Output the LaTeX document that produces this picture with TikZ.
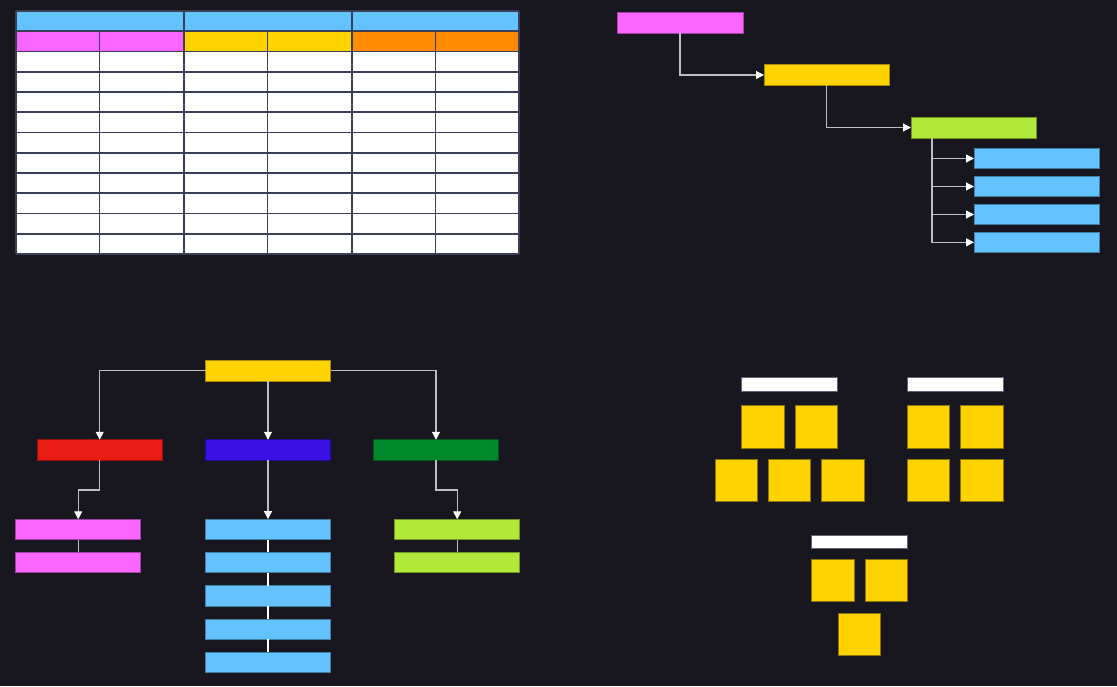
\documentclass[tikz,border=0pt]{standalone}
\usetikzlibrary{arrows.meta,calc,positioning}
\definecolor{Bg}{HTML}{18161F}
\definecolor{Grid}{HTML}{3A3F55}
\definecolor{Wire}{HTML}{BDBDC4}
\definecolor{Sky}{HTML}{64C3FF}
\definecolor{Pink}{HTML}{F966FF}
\definecolor{Yellow}{HTML}{FFD300}
\definecolor{Orange}{HTML}{FF8C00}
\definecolor{Lime}{HTML}{B1E93A}
\definecolor{Red}{HTML}{E81C14}
\definecolor{Violet}{HTML}{3B10E6}
\definecolor{Green}{HTML}{00892A}
\tikzset{
  bar/.style={draw=#1!65!black,fill=#1,line width=0.8pt,minimum width=125pt,
    minimum height=20.5pt,inner sep=0pt,outer sep=0pt},
  tile/.style={draw=Yellow!55!black,fill=Yellow,line width=0.8pt,minimum width=42.5pt,
    minimum height=42.5pt,inner sep=0pt,outer sep=0pt},
  lid/.style={draw=Grid!80!white,fill=white,line width=0.8pt,minimum width=96pt,
    minimum height=13.5pt,inner sep=0pt,outer sep=0pt},
  link/.style={draw=Wire,line width=1.1pt,-{Triangle[length=8pt,width=8pt,color=white]}},
  joint/.style={draw=Wire,line width=1.1pt},
  grid/.style={draw=Grid,line width=1.6pt}
}
\begin{document}
\begin{tikzpicture}[x=1pt,y=-1pt]
  \fill[Bg] (0,0) rectangle (1117,686);
  \useasboundingbox (0,0) rectangle (1117,686);

  % table
  \fill[white] (16,51.5) rectangle (519,254);
  \foreach \xa/\xb in {16/184,184/352,352/519}
    \fill[Sky] (\xa,11) rectangle (\xb,31.25);
  \foreach \xa/\xb/\col in {16/99.5/Pink,99.5/184/Pink,184/267.5/Yellow,
      267.5/352/Yellow,352/435.5/Orange,435.5/519/Orange}
    \fill[\col] (\xa,31.25) rectangle (\xb,51.5);
  \foreach \k in {0,...,12}
    \draw[grid] (16,{11+20.25*\k}) -- (519,{11+20.25*\k});
  \foreach \x in {16,184,352,519}
    \draw[grid] (\x,11) -- (\x,254);
  \foreach \x in {99.5,267.5,435.5}
    \draw[grid] (\x,31.25) -- (\x,254);

  % staircase tree
  \node[bar=Pink,minimum width=126pt,minimum height=21pt] (top) at (680,22.5) {};
  \node[bar=Yellow] (mid) at (826.5,75) {};
  \node[bar=Lime,minimum height=21pt] (low) at (973.5,127.5) {};
  \foreach \i/\y in {1/158.5,2/186.5,3/214.5,4/242.3}
    \node[bar=Sky] (leaf\i) at (1036.5,\y) {};
  \draw[link] (top.south) |- (mid.west);
  \draw[link] (mid.south) |- (low.west);
  \coordinate (trunk) at ($(low.south west)+(21,0)$);
  \foreach \i in {1,...,4}
    \draw[link] (trunk) |- (leaf\i.west);

  % branching tree
  \node[bar=Yellow,minimum height=21pt] (root) at (268,370.5) {};
  \node[bar=Red] (kidA) at (99.7,450) {};
  \node[bar=Violet] (kidB) at (268,450) {};
  \node[bar=Green] (kidC) at (436,450) {};
  \draw[link] (root.west) -| (kidA.north);
  \draw[link] (root.south) -- (kidB.north);
  \draw[link] (root.east) -| (kidC.north);

  \node[bar=Pink] (pinkA) at (78.2,529.5) {};
  \node[bar=Pink] (pinkB) at (78.2,562.3) {};
  \draw[link] (kidA.south) -- ++(0,29.7) -| (pinkA.north);
  \draw[joint] (pinkA.south) -- (pinkB.north);

  \node[bar=Lime] (limeA) at (457.2,529.5) {};
  \node[bar=Lime] (limeB) at (457.2,562.5) {};
  \draw[link] (kidC.south) -- ++(0,29.7) -| (limeA.north);
  \draw[joint] (limeA.south) -- (limeB.north);

  \foreach \i/\y in {1/529.3,2/562.5,3/595.8,4/629.2,5/662.5}
    \node[bar=Sky] (stack\i) at (268,\y) {};
  \draw[link] (kidB.south) -- (stack1.north);
  \foreach \i/\j in {1/2,2/3,3/4,4/5}
    \draw[joint,draw=white] (stack\i.south) -- (stack\j.north);

  % tile groups
  \node[lid] (lidA) at (789.3,384.5) {};
  \node[tile] (tA1) at (762.7,426.8) {};
  \node[tile] (tA2) at (816.2,426.8) {};
  \node[tile] (tA3) at (736.2,480.3) {};
  \node[tile] (tA4) at (789.5,480.3) {};
  \node[tile] (tA5) at (842.8,480.3) {};

  \node[lid] (lidB) at (955,384.5) {};
  \node[tile] (tB1) at (928.3,426.8) {};
  \node[tile] (tB2) at (981.7,426.8) {};
  \node[tile] (tB3) at (928.3,480.3) {};
  \node[tile] (tB4) at (981.7,480.3) {};

  \node[lid] (lidC) at (859.3,541.7) {};
  \node[tile] (tC1) at (832.7,580.5) {};
  \node[tile] (tC2) at (886.2,580.5) {};
  \node[tile] (tC3) at (859.5,634.2) {};
\end{tikzpicture}
\end{document}
